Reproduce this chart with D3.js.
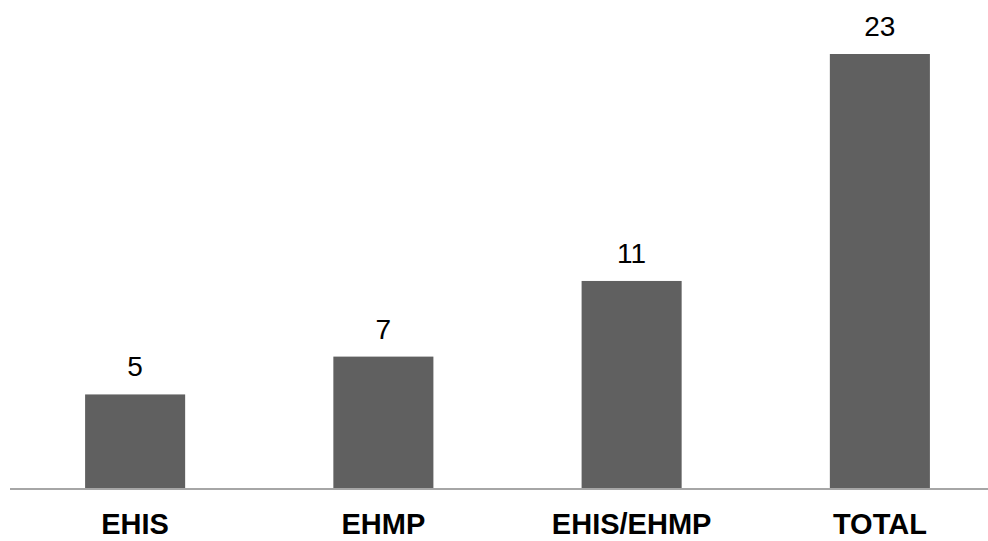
<!DOCTYPE html>
<html>
<head>
<meta charset="utf-8">
<script src="https://cdn.jsdelivr.net/npm/d3@7"></script>
<style>
  html, body { margin: 0; padding: 0; background: #fff; }
  svg { display: block; }
</style>
</head>
<body>
<script>
const categories = ["EHIS", "EHMP", "EHIS/EHMP", "TOTAL"];
const values = [5, 7, 11, 23];

const W = 988, H = 541;
const svg = d3.select("body").append("svg").attr("width", W).attr("height", H);

const x = d3.scaleBand().domain(categories).range([11, 1004])
  .paddingInner(0.597).paddingOuter(0.2985);
const y = d3.scaleLinear().domain([0, 23]).range([489, 54]);

svg.selectAll("rect.bar").data(values).join("rect")
  .attr("class", "bar")
  .attr("x", (d, i) => x(categories[i]))
  .attr("width", x.bandwidth())
  .attr("y", d => y(d))
  .attr("height", d => y(0) - y(d))
  .attr("fill", "#606060");

// baseline axis
const axis = d3.axisBottom(x).tickSize(0).tickFormat("");
const g = svg.append("g").attr("transform", `translate(0,${y(0)})`).call(axis);
g.select(".domain").attr("stroke", "#a6a6a6").attr("stroke-width", 2)
  .attr("d", "M10,0H988");

svg.selectAll("text.val").data(values).join("text")
  .attr("class", "val")
  .attr("x", (d, i) => x(categories[i]) + x.bandwidth() / 2)
  .attr("y", d => y(d) - 18)
  .attr("text-anchor", "middle")
  .attr("font-family", "Liberation Sans, Arial, sans-serif")
  .attr("font-size", 28)
  .attr("fill", "#000")
  .text(d => d);

svg.selectAll("text.cat").data(categories).join("text")
  .attr("class", "cat")
  .attr("x", d => x(d) + x.bandwidth() / 2)
  .attr("y", 534)
  .attr("text-anchor", "middle")
  .attr("font-family", "Liberation Sans, Arial, sans-serif")
  .attr("font-size", 29)
  .attr("font-weight", "bold")
  .attr("fill", "#000")
  .text(d => d);
</script>
</body>
</html>
